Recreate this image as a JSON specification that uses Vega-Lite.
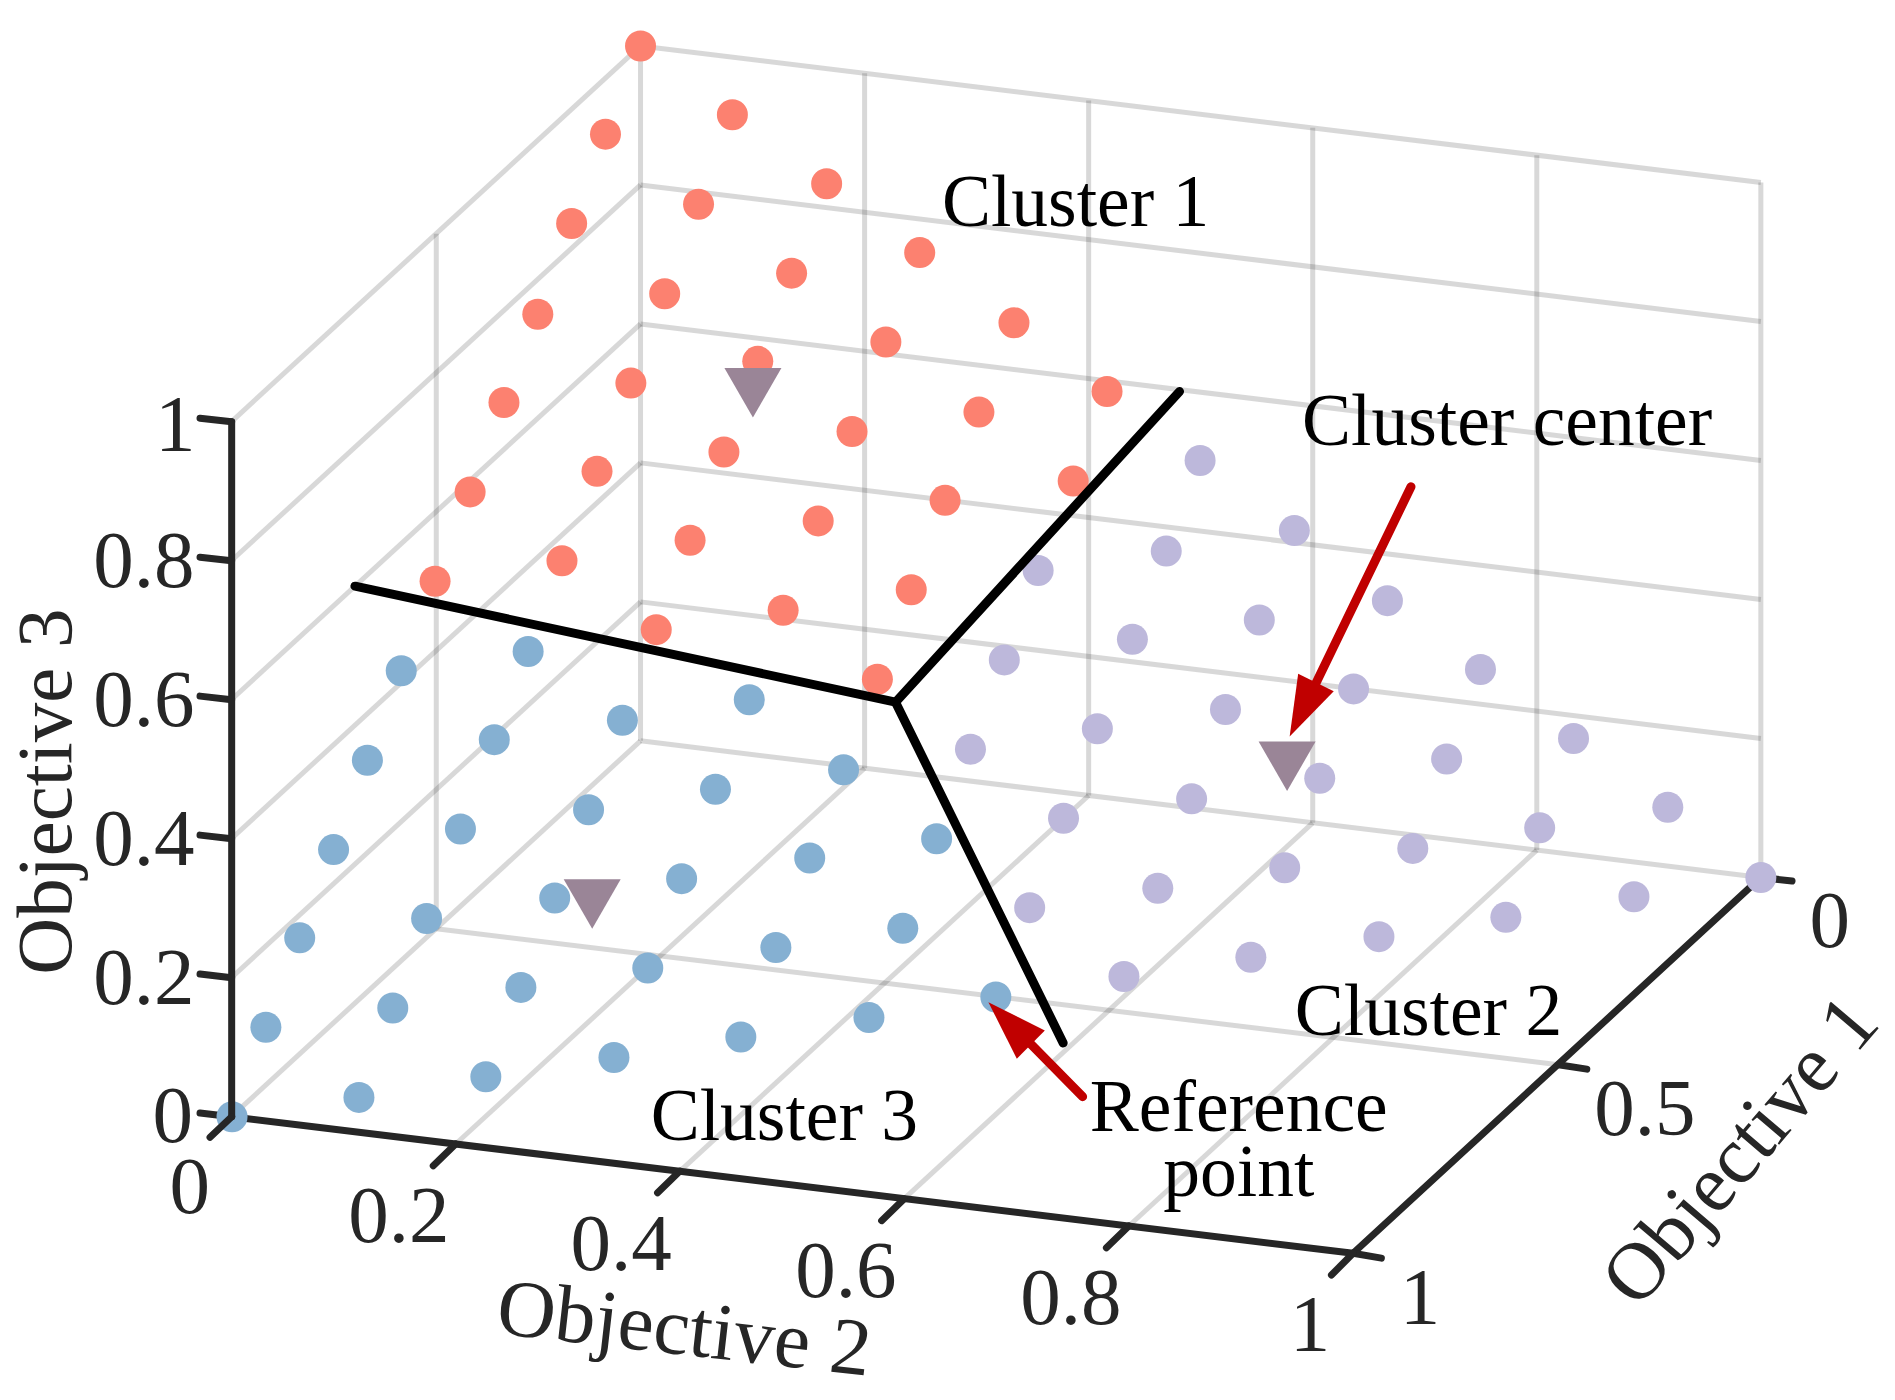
{"$schema":"https://vega.github.io/schema/vega-lite/v6.json","width":1895,"height":1400,"autosize":{"type":"none"},"padding":0,"background":"white","config":{"view":{"stroke":null}},
"datasets":{
"grid":[{"x":191.4,"y":349,"x2":530,"y2":38},{"x":191.4,"y":464,"x2":530,"y2":153},{"x":191.4,"y":579,"x2":530,"y2":268},{"x":191.4,"y":694,"x2":530,"y2":383},{"x":191.4,"y":809,"x2":530,"y2":498},{"x":191.4,"y":924,"x2":530,"y2":613},
{"x":530,"y":38,"x2":1457,"y2":151},{"x":530,"y":153,"x2":1457,"y2":266},{"x":530,"y":268,"x2":1457,"y2":381},{"x":530,"y":383,"x2":1457,"y2":496},{"x":530,"y":498,"x2":1457,"y2":611},{"x":530,"y":613,"x2":1457,"y2":726},
{"x":530,"y":38,"x2":530,"y2":613},{"x":715.4,"y":60.6,"x2":715.4,"y2":635.6},{"x":900.8,"y":83.2,"x2":900.8,"y2":658.2},{"x":1086.2,"y":105.8,"x2":1086.2,"y2":680.8},{"x":1271.6,"y":128.4,"x2":1271.6,"y2":703.4},{"x":1457,"y":151,"x2":1457,"y2":726},
{"x":377,"y":946.6,"x2":715.4,"y2":635.6},{"x":562.6,"y":969,"x2":900.8,"y2":658.2},{"x":748,"y":992,"x2":1086.2,"y2":680.8},{"x":934,"y":1014.4,"x2":1271.6,"y2":703.4},
{"x":1289.6,"y":881,"x2":361,"y2":768.5},{"x":361,"y":768.5,"x2":361,"y2":193.5}],
"axesBelow":[{"x":1119.6,"y":1037,"x2":1457,"y2":726},{"x":1457,"y":726,"x2":1482.8,"y2":729},{"x":1289.6,"y":881,"x2":1313,"y2":884.6},{"x":1119.6,"y":1037,"x2":1143,"y2":1041},
{"x":191.4,"y":924,"x2":1119.6,"y2":1037},{"x":377,"y":946.6,"x2":358.5,"y2":964.6},{"x":562.6,"y":969,"x2":544.1,"y2":987},{"x":748,"y":992,"x2":729.5,"y2":1010},{"x":934,"y":1014.4,"x2":915.5,"y2":1032.4},{"x":1119.6,"y":1037,"x2":1101.7,"y2":1055},
{"x":191.7,"y":349,"x2":165.5,"y2":346},{"x":191.7,"y":464,"x2":165.5,"y2":461},{"x":191.7,"y":579,"x2":165.5,"y2":576},{"x":191.7,"y":694,"x2":165.5,"y2":691},{"x":191.7,"y":809,"x2":165.5,"y2":806},{"x":191.7,"y":924,"x2":165.5,"y2":921}],
"axesAbove":[{"x":191.7,"y":349,"x2":191.7,"y2":924},{"x":191.7,"y":924,"x2":173.8,"y2":941}],
"points":[
{"c":"Cluster 1","x":530,"y":38},{"c":"Cluster 1","x":606,"y":95},{"c":"Cluster 1","x":501,"y":111},{"c":"Cluster 1","x":684,"y":152},{"c":"Cluster 1","x":578,"y":169},{"c":"Cluster 1","x":473,"y":185},{"c":"Cluster 1","x":761,"y":209},{"c":"Cluster 1","x":655,"y":226},{"c":"Cluster 1","x":550,"y":243},{"c":"Cluster 1","x":445,"y":260},{"c":"Cluster 1","x":839,"y":267},{"c":"Cluster 1","x":733,"y":283},{"c":"Cluster 1","x":627,"y":299},{"c":"Cluster 1","x":522,"y":317},{"c":"Cluster 1","x":417,"y":333},{"c":"Cluster 1","x":916,"y":324},{"c":"Cluster 1","x":810,"y":341},{"c":"Cluster 1","x":705,"y":357},{"c":"Cluster 1","x":599,"y":374},{"c":"Cluster 1","x":494,"y":390},{"c":"Cluster 1","x":389,"y":407},{"c":"Cluster 1","x":888,"y":398},{"c":"Cluster 1","x":782,"y":414},{"c":"Cluster 1","x":677,"y":431},{"c":"Cluster 1","x":571,"y":447},{"c":"Cluster 1","x":465,"y":464},{"c":"Cluster 1","x":360,"y":481},{"c":"Cluster 1","x":754,"y":488},{"c":"Cluster 1","x":648,"y":505},{"c":"Cluster 1","x":543,"y":521},{"c":"Cluster 1","x":726,"y":562},
{"c":"Cluster 2","x":993,"y":381},{"c":"Cluster 2","x":1071,"y":439},{"c":"Cluster 2","x":965,"y":456},{"c":"Cluster 2","x":859,"y":472},{"c":"Cluster 2","x":1148,"y":497},{"c":"Cluster 2","x":1042,"y":513},{"c":"Cluster 2","x":937,"y":529},{"c":"Cluster 2","x":831,"y":546},{"c":"Cluster 2","x":1225,"y":554},{"c":"Cluster 2","x":1120,"y":570},{"c":"Cluster 2","x":1014,"y":587},{"c":"Cluster 2","x":908,"y":603},{"c":"Cluster 2","x":803,"y":620},{"c":"Cluster 2","x":1302,"y":611},{"c":"Cluster 2","x":1197,"y":628},{"c":"Cluster 2","x":1092,"y":644},{"c":"Cluster 2","x":986,"y":661},{"c":"Cluster 2","x":880,"y":677},{"c":"Cluster 2","x":1380,"y":668},{"c":"Cluster 2","x":1274,"y":685},{"c":"Cluster 2","x":1169,"y":702},{"c":"Cluster 2","x":1063,"y":718},{"c":"Cluster 2","x":958,"y":735},{"c":"Cluster 2","x":852,"y":751},{"c":"Cluster 2","x":1457,"y":726},{"c":"Cluster 2","x":1352,"y":742},{"c":"Cluster 2","x":1246,"y":759},{"c":"Cluster 2","x":1141,"y":775},{"c":"Cluster 2","x":1035,"y":792},{"c":"Cluster 2","x":930,"y":808},
{"c":"Cluster 3","x":332,"y":555},{"c":"Cluster 3","x":437,"y":539},{"c":"Cluster 3","x":304,"y":629},{"c":"Cluster 3","x":409,"y":612},{"c":"Cluster 3","x":515,"y":596},{"c":"Cluster 3","x":620,"y":579},{"c":"Cluster 3","x":276,"y":703},{"c":"Cluster 3","x":381,"y":686},{"c":"Cluster 3","x":487,"y":670},{"c":"Cluster 3","x":592,"y":653},{"c":"Cluster 3","x":698,"y":637},{"c":"Cluster 3","x":248,"y":776},{"c":"Cluster 3","x":353,"y":760},{"c":"Cluster 3","x":459,"y":743},{"c":"Cluster 3","x":564,"y":727},{"c":"Cluster 3","x":670,"y":710},{"c":"Cluster 3","x":775,"y":694},{"c":"Cluster 3","x":220,"y":850},{"c":"Cluster 3","x":325,"y":834},{"c":"Cluster 3","x":431,"y":817},{"c":"Cluster 3","x":536,"y":801},{"c":"Cluster 3","x":642,"y":784},{"c":"Cluster 3","x":747,"y":768},{"c":"Cluster 3","x":192,"y":924},{"c":"Cluster 3","x":297,"y":908},{"c":"Cluster 3","x":402,"y":891},{"c":"Cluster 3","x":508,"y":875},{"c":"Cluster 3","x":613,"y":858},{"c":"Cluster 3","x":719,"y":842},{"c":"Cluster 3","x":824,"y":825}],
"centers":[{"x":623,"y":325},{"x":1065,"y":634},{"x":490,"y":748}],
"bound":[{"x":293.7,"y":485,"x2":741,"y2":581},{"x":741,"y":581,"x2":976,"y2":324},{"x":741,"y":581,"x2":879.7,"y2":863}],
"shafts":[{"x":1167.5,"y":402.7,"x2":1089,"y2":565},{"x":895.8,"y":907.4,"x2":853,"y2":864}],
"ticks":[{"t":"1","x":145,"y":353},{"t":"0.8","x":119,"y":466},{"t":"0.6","x":119,"y":581},{"t":"0.4","x":119,"y":696},{"t":"0.2","x":119,"y":811},{"t":"0","x":143,"y":925},{"t":"0","x":157,"y":984},{"t":"0.2","x":330,"y":1008},{"t":"0.4","x":514,"y":1031},{"t":"0.6","x":700,"y":1053},{"t":"0.8","x":886,"y":1076},{"t":"1","x":1084,"y":1098},{"t":"0","x":1514,"y":764},{"t":"0.5","x":1361,"y":919},{"t":"1","x":1175,"y":1076}],
"notes":[{"t":"Cluster 1","x":890,"y":169},{"t":"Cluster center","x":1247,"y":350},{"t":"Cluster 2","x":1182,"y":838},{"t":"Cluster 3","x":649,"y":925},{"t":"Reference","x":1025,"y":918},{"t":"point","x":1025,"y":971}]
},
"encoding":{"x":{"field":"x","type":"quantitative","axis":null,"scale":{"domain":[0,1568],"nice":false,"zero":false}},"y":{"field":"y","type":"quantitative","axis":null,"scale":{"domain":[1158.4,0],"nice":false,"zero":false}}},
"layer":[
{"data":{"name":"grid"},"mark":{"type":"rule","color":"#262626","opacity":0.18,"strokeWidth":5},"encoding":{"x2":{"field":"x2"},"y2":{"field":"y2"}}},
{"data":{"name":"axesBelow"},"mark":{"type":"rule","color":"#262626","strokeWidth":7,"strokeCap":"round"},"encoding":{"x2":{"field":"x2"},"y2":{"field":"y2"}}},
{"data":{"name":"points"},"mark":{"type":"point","filled":true,"opacity":1,"size":961},"encoding":{"color":{"field":"c","type":"nominal","legend":null,"scale":{"domain":["Cluster 1","Cluster 2","Cluster 3"],"range":["#FC8170","#BDB8DB","#85B0D2"]}}}},
{"data":{"name":"axesAbove"},"mark":{"type":"rule","color":"#262626","strokeWidth":7,"strokeCap":"round"},"encoding":{"x2":{"field":"x2"},"y2":{"field":"y2"}}},
{"data":{"name":"centers"},"mark":{"type":"point","shape":"triangle-down","filled":true,"opacity":1,"size":3249,"color":"#9A8597"}},
{"data":{"name":"bound"},"mark":{"type":"rule","color":"#000000","strokeWidth":9,"strokeCap":"round"},"encoding":{"x2":{"field":"x2"},"y2":{"field":"y2"}}},
{"data":{"name":"shafts"},"mark":{"type":"rule","color":"#C00000","strokeWidth":9,"strokeCap":"round"},"encoding":{"x2":{"field":"x2"},"y2":{"field":"y2"}}},
{"data":{"values":[{"x":1078,"y":587}]},"mark":{"type":"point","shape":"M0,-1L0.66,1L-0.66,1Z","filled":true,"opacity":1,"size":3600,"color":"#C00000","angle":206}},
{"data":{"values":[{"x":835.4,"y":846.8}]},"mark":{"type":"point","shape":"M0,-1L0.66,1L-0.66,1Z","filled":true,"opacity":1,"size":3600,"color":"#C00000","angle":315}},
{"data":{"name":"ticks"},"mark":{"type":"text","font":"Liberation Serif","fontSize":81,"color":"#262626","align":"center","baseline":"middle"},"encoding":{"text":{"field":"t"}}},
{"data":{"name":"notes"},"mark":{"type":"text","font":"Liberation Serif","fontSize":73.5,"color":"#000000","align":"center","baseline":"middle"},"encoding":{"text":{"field":"t"}}},
{"data":{"values":[{"t":"Objective 3","x":39,"y":655}]},"mark":{"type":"text","font":"Liberation Serif","fontSize":79,"color":"#262626","align":"center","baseline":"middle","angle":270},"encoding":{"text":{"field":"t"}}},
{"data":{"values":[{"t":"Objective 2","x":566,"y":1101}]},"mark":{"type":"text","font":"Liberation Serif","fontSize":81,"color":"#262626","align":"center","baseline":"middle","angle":6.5},"encoding":{"text":{"field":"t"}}},
{"data":{"values":[{"t":"Objective 1","x":1441,"y":953}]},"mark":{"type":"text","font":"Liberation Serif","fontSize":81,"color":"#262626","align":"center","baseline":"middle","angle":310.5},"encoding":{"text":{"field":"t"}}}
]}
